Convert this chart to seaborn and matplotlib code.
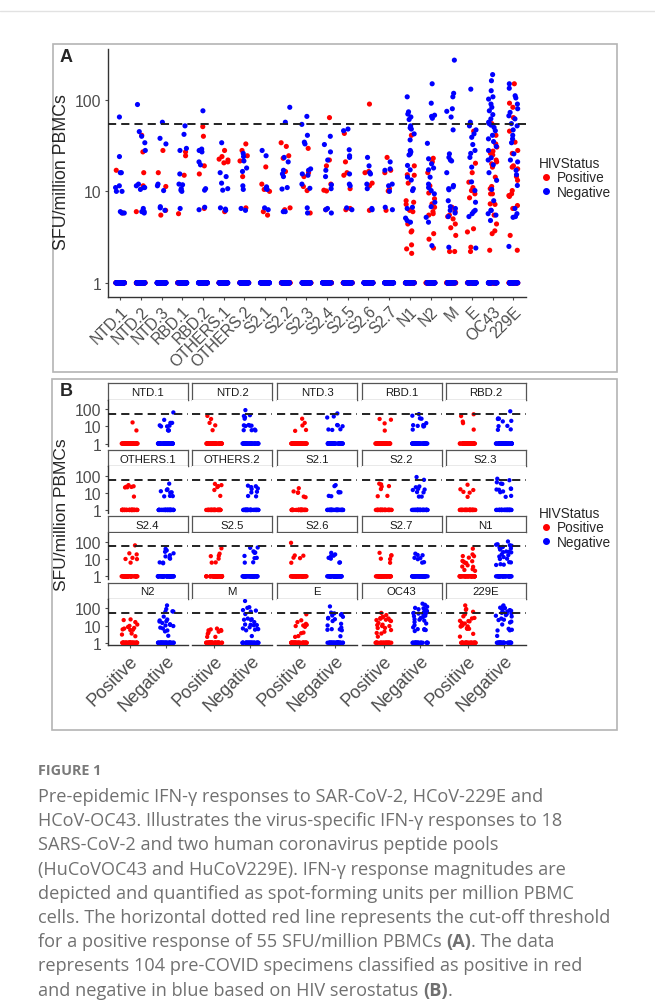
import numpy as np
import pandas as pd
import seaborn as sns
import matplotlib.pyplot as plt
from matplotlib.lines import Line2D

pools = ['NTD.1', 'NTD.2', 'NTD.3', 'RBD.1', 'RBD.2', 'OTHERS.1', 'OTHERS.2',
         'S2.1', 'S2.2', 'S2.3', 'S2.4', 'S2.5', 'S2.6', 'S2.7',
         'N1', 'N2', 'M', 'E', 'OC43', '229E']

# specimens in each HIV group; non-responders are plotted at 1
n_positive = 50
n_negative = 54

# responses above zero (SFU/million PBMCs), one list per pool, HIV positive
pos_responses = [
    [17, 5.8],
    [41, 27, 16, 11.5, 6],
    [28, 16, 11.3, 6.2, 5.5],
    [27, 24.5, 15, 5.7],
    [51, 40, 19, 15.5, 6.5],
    [28, 24, 22.5, 22, 21, 20.5, 6],
    [33, 28, 24.5, 21.5, 14.5, 6.6],
    [18.5, 12, 10.5, 10, 6, 5.5],
    [34, 31, 24.5, 23, 16.5, 6.6, 6.3],
    [29.5, 16, 14.5, 11.3, 10.2, 5.8],
    [64, 22, 19, 12, 10.3, 10.1, 6.3],
    [43, 21, 16, 15, 10.7, 6.5, 6.3],
    [90, 16.5, 16, 12.3, 11.5, 6.2],
    [23.5, 17, 16, 10.7, 10.1, 6.2],
    [41, 19, 15.2, 15, 12.3, 7.9, 7.6, 7.2, 6.2, 6, 4.4, 3.7, 3.6, 2.6, 2.35, 2.1],
    [23, 21, 16, 11.5, 9.6, 8.3, 7.3, 6.7, 6, 5.7, 5.5, 3.45, 3, 2.4],
    [6.7, 6, 5.5, 5.3, 5, 4.4, 4, 3.3, 2.2, 2.2],
    [45.5, 20.3, 16, 12.6, 11, 10.2, 9.4, 8.5, 3.9, 3.6, 2.45, 2.2],
    [55, 41, 33, 30.5, 27.5, 26, 25, 22, 21, 20, 18.4, 14.3, 11.3, 10.7, 9.4,
     9.4, 7.3, 7.2, 5.5, 4.4, 3.7, 3.45, 2.27],
    [150, 92, 83, 64, 45.5, 34.5, 28, 26, 19, 18.4, 17.6, 14.5, 13.2, 10.2,
     9.4, 9, 8.8, 7, 6.5, 6.5, 3.3, 2.27],
]

# same for HIV negative
neg_responses = [
    [65, 24, 16, 16, 11.5, 11, 10, 10, 6, 5.8, 5.8],
    [89, 45, 40, 34, 28, 12, 11.5, 11, 11, 10.5, 6.5, 6, 6, 5.8],
    [57, 38, 33, 12, 11.5, 10.2, 6.8, 6.6, 6.2],
    [52, 42, 29.5, 28, 15.5, 12, 11.8, 10.7, 10.3, 10, 6.5],
    [76, 29, 28, 27, 21, 19.5, 10.7, 10.3, 6.7, 6.3],
    [34, 16, 14.5, 12.3, 10.7, 10.3, 6.6, 6.4, 6.2],
    [26, 24, 21.5, 18, 16.5, 11.5, 10.5, 6.5, 6.2],
    [28, 24.5, 11.2, 10.7, 10.5, 6.6, 6.3],
    [83, 57, 23.5, 21, 17, 15.5, 14.5, 11, 10.6, 6, 6],
    [66, 54, 41, 34.5, 33, 17.6, 17, 15.5, 15, 12, 10.8, 6.6, 5.8],
    [40, 32.5, 27, 22, 17, 14.5, 11.8, 10.7, 6.5, 6.3, 5.8],
    [48, 46, 28.5, 24.5, 23.5, 15.5, 12, 11.5, 6.6, 6.3],
    [23.5, 19, 16, 15.5, 12, 10.7, 6.5, 6.3],
    [21, 17.6, 17, 12, 11.5, 10, 6.7, 6.3],
    [108, 74, 70, 65, 61, 52, 49.5, 48, 42.5, 36.5, 28, 27, 25.7, 25, 19.2,
     17.2, 14.3, 13.3, 10.7, 10.2, 6.7, 6.5, 5.1, 4.8, 4.6],
    [150, 92, 68, 66, 63, 33.5, 22.7, 20, 18, 17.2, 14.3, 12, 11, 10.2, 9.4,
     7.6, 6.8, 5.2, 4.6, 2.55],
    [272, 118, 108, 80, 75, 65, 47, 25.7, 23.5, 22, 21.5, 16, 11.6, 11.2,
     10.7, 10.4, 7.9, 6.8, 6.5, 6.2, 5.8, 5.3, 2.45],
    [131, 57, 52, 47, 42.5, 39, 32.5, 28, 26, 23.5, 18.4, 12.7, 10.2, 7.6,
     6.2, 6, 5.7, 5.3, 2.4],
    [189, 162, 126, 108, 102, 90, 83, 76, 69, 62, 57, 55, 53, 50, 46, 41,
     37.5, 35, 31, 28, 23.3, 22, 19.5, 16, 13.2, 10.5, 7.9, 6.2, 6.2, 5.7,
     5.5, 4.8],
    [150, 134, 111, 105, 90, 80, 73, 67, 62, 55, 52, 47, 41, 37.5, 34, 25.7,
     22, 21, 17, 15.2, 11.6, 6.5, 5.7, 5.3, 5.2, 2.5],
]

status_levels = ['Positive', 'Negative']
cutoff = 55
y_ticks = [1, 10, 100]

caption_lines = [
    [('Pre-epidemic IFN-γ responses to SAR-CoV-2, HCoV-229E and', False)],
    [('HCoV-OC43. Illustrates the virus-specific IFN-γ responses to 18', False)],
    [('SARS-CoV-2 and two human coronavirus peptide pools', False)],
    [('(HuCoVOC43 and HuCoV229E). IFN-γ response magnitudes are', False)],
    [('depicted and quantified as spot-forming units per million PBMC', False)],
    [('cells. The horizontal dotted red line represents the cut-off threshold', False)],
    [('for a positive response of 55 SFU/million PBMCs ', False), ('(A)', True), ('. The data', False)],
    [('represents 104 pre-COVID specimens classified as positive in red', False)],
    [('and negative in blue based on HIV serostatus ', False), ('(B)', True), ('.', False)],
]

W, H = 655, 1004
palette = {'Positive': '#FF0000', 'Negative': '#0000FF'}
GREY = '#4D4D4D'
TICK_FS = 11.3

sns.set_style('ticks')
plt.rcParams['font.family'] = ['Liberation Sans', 'DejaVu Sans']
np.random.seed(7)


def px_box(x0, y0, x1, y1):
    return [x0 / W, 1 - y1 / H, (x1 - x0) / W, (y1 - y0) / H]


def build_frame():
    rows = []
    for pool, pos, neg in zip(pools, pos_responses, neg_responses):
        for status, values, n in (('Positive', pos, n_positive), ('Negative', neg, n_negative)):
            for v in list(values) + [1] * (n - len(values)):
                rows.append((pool, status, v))
    return pd.DataFrame(rows, columns=['Pool', 'HIVStatus', 'SFU'])


def style_axis(ax, show_x=True, show_y=True):
    ax.set_yscale('log')
    ax.set_ylim(0.7, 360)
    ax.minorticks_off()
    ax.set_yticks(y_ticks)
    for side in ('top', 'right'):
        ax.spines[side].set_visible(False)
    ax.spines['left'].set_visible(show_y)
    ax.spines['bottom'].set_visible(show_x)
    for side in ('left', 'bottom'):
        ax.spines[side].set_color('#333333')
        ax.spines[side].set_linewidth(1.0)
    ax.tick_params(axis='both', length=2.5, width=0.8, color=GREY,
                   labelcolor=GREY, labelsize=TICK_FS, pad=2)
    if show_y:
        ax.set_yticklabels([str(t) for t in y_ticks])
    else:
        ax.tick_params(axis='y', left=False, labelleft=False)
    if not show_x:
        ax.tick_params(axis='x', bottom=False, labelbottom=False)
    ax.set_xlabel('')
    ax.set_ylabel('')
    ax.axhline(cutoff, color='#222222', lw=1.4, ls=(0, (4.2, 2.6)), zorder=5)


def legend(fig, top_px):
    handles = [Line2D([], [], marker='o', ls='', color=palette[s], markersize=4)
               for s in status_levels]
    fig.legend(handles, status_levels, title='HIVStatus', loc='upper left',
               bbox_to_anchor=(532 / W, 1 - top_px / H), frameon=False,
               fontsize=9.8, title_fontsize=9.8, handletextpad=0.3,
               labelspacing=0.05, handlelength=1.0, borderpad=0,
               alignment='left')


def frame_box(fig, x0, y0, x1, y1):
    fig.add_artist(plt.Rectangle((x0 / W, 1 - y1 / H), (x1 - x0) / W, (y1 - y0) / H,
                                 transform=fig.transFigure, fill=False,
                                 edgecolor='#b4b4b4', lw=1.2))


data = build_frame()
fig = plt.figure(figsize=(W / 100, H / 100), dpi=100)

fig.add_artist(Line2D([0, 1], [1 - 12 / H, 1 - 12 / H], color='#e2e2e2', lw=1,
                      transform=fig.transFigure))
frame_box(fig, 53, 45, 617, 373)
frame_box(fig, 52, 380, 617, 731)

# Panel A: all pools on one axis
ax_a = fig.add_axes(px_box(107.7, 50, 525.7, 298))
sns.stripplot(data=data, x='Pool', y='SFU', hue='HIVStatus', order=pools,
              hue_order=status_levels, palette=palette, jitter=0.22, size=3.7,
              linewidth=0, log_scale=True, legend=False, ax=ax_a)
ax_a.set_xlim(-0.6, len(pools) - 0.4)
style_axis(ax_a)
ax_a.set_xticks(range(len(pools)))
ax_a.set_xticklabels(pools, rotation=45, ha='right', rotation_mode='anchor')
fig.text(62 / W, 1 - 172 / H, 'SFU/million PBMCs', rotation=90, fontsize=12.8,
         ha='center', va='center')
fig.text(60 / W, 1 - 58 / H, 'A', fontsize=13, weight='bold', va='center')
legend(fig, 150)

# Panel B: one facet per pool
col_x = [107.7, 192.3, 277.0, 361.7, 445.7]
panel_w = 80
row_top = [384.3 + 66.4 * i for i in range(4)]
for i, pool in enumerate(pools):
    r, c = divmod(i, 5)
    x0, st = col_x[c], row_top[r]
    strip = fig.add_axes(px_box(x0, st, x0 + panel_w, st + 16.2))
    strip.set_xticks([])
    strip.set_yticks([])
    for sp in strip.spines.values():
        sp.set_color('#555555')
        sp.set_linewidth(0.9)
    strip.text(0.5, 0.45, pool, ha='center', va='center', fontsize=8.2,
               color='#1a1a1a', transform=strip.transAxes)

    ax = fig.add_axes(px_box(x0, st + 16.4, x0 + panel_w, st + 62.9))
    sub = data[data['Pool'] == pool]
    sns.stripplot(data=sub, x='HIVStatus', y='SFU', hue='HIVStatus',
                  order=status_levels, hue_order=status_levels, palette=palette,
                  jitter=0.22, size=3.1, linewidth=0, log_scale=True,
                  legend=False, ax=ax)
    ax.set_xlim(-0.6, 1.6)
    style_axis(ax, show_x=(r == 3), show_y=(c == 0))
    if r == 3:
        ax.set_xticks([0, 1])
        ax.set_xticklabels(status_levels, rotation=45, ha='right',
                           rotation_mode='anchor', fontsize=13)

fig.text(62 / W, 1 - 515 / H, 'SFU/million PBMCs', rotation=90, fontsize=12.5,
         ha='center', va='center')
fig.text(60 / W, 1 - 392 / H, 'B', fontsize=13, weight='bold', va='center')
legend(fig, 500)

# Caption
CAP = '#707070'
fig.text(38 / W, 1 - 771 / H, 'FIGURE 1', fontsize=10.4, weight='bold',
         color='#7a7a7a', family='Open Sans', va='center')
renderer = fig.canvas.get_renderer()
for k, parts in enumerate(caption_lines):
    x = 38
    y = 797 + 24.2 * k
    for text, bold in parts:
        t = fig.text(x / W, 1 - y / H, text, fontsize=13.1, color=CAP,
                     family='Open Sans', weight='bold' if bold else 'normal',
                     va='center')
        x += t.get_window_extent(renderer).width

fig.savefig('out.png', dpi=100)
